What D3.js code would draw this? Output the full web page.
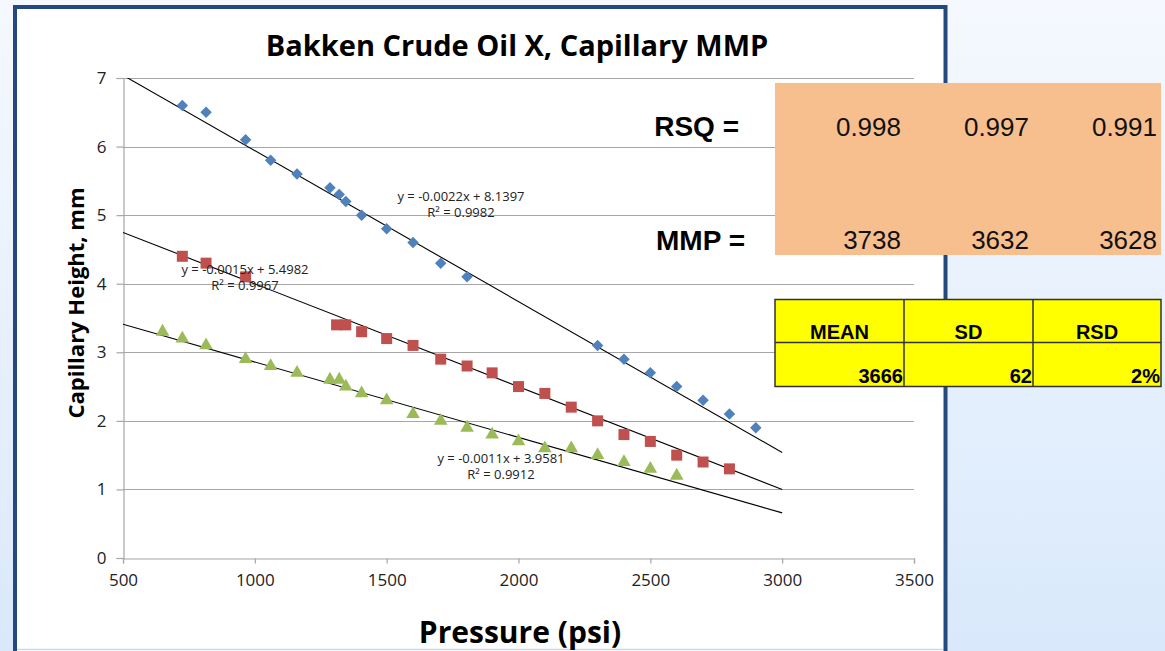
<!DOCTYPE html>
<html>
<head>
<meta charset="utf-8">
<script src="https://cdn.jsdelivr.net/npm/d3@7"></script>
<style>
  body { margin: 0; padding: 0; overflow: hidden; }
  svg { display: block; }
</style>
</head>
<body>
<svg id="chart" width="1165" height="651"></svg>
<script>
// chart data
var xTicks = [500, 1000, 1500, 2000, 2500, 3000, 3500];
var yTicks = [0, 1, 2, 3, 4, 5, 6, 7];

var blueX = [725, 815, 965, 1060, 1160, 1285, 1320, 1345, 1405, 1500, 1600, 1705, 1805, 2300, 2400, 2500, 2600, 2700, 2800, 2900];
var blueY = [6.6, 6.5, 6.1, 5.8, 5.6, 5.4, 5.3, 5.2, 5.0, 4.8, 4.6, 4.3, 4.1, 3.1, 2.9, 2.7, 2.5, 2.3, 2.1, 1.9];

var redX = [725, 815, 965, 1310, 1345, 1405, 1500, 1600, 1705, 1805, 1900, 2000, 2100, 2200, 2300, 2400, 2500, 2600, 2700, 2800];
var redY = [4.4, 4.3, 4.1, 3.4, 3.4, 3.3, 3.2, 3.1, 2.9, 2.8, 2.7, 2.5, 2.4, 2.2, 2.0, 1.8, 1.7, 1.5, 1.4, 1.3];

var greenX = [650, 725, 815, 965, 1060, 1160, 1285, 1320, 1345, 1405, 1500, 1600, 1705, 1805, 1900, 2000, 2100, 2200, 2300, 2400, 2500, 2600];
var greenY = [3.3, 3.2, 3.1, 2.9, 2.8, 2.7, 2.6, 2.6, 2.5, 2.4, 2.3, 2.1, 2.0, 1.9, 1.8, 1.7, 1.6, 1.6, 1.5, 1.4, 1.3, 1.2];

var trendSlope = [-0.0022, -0.0015, -0.0011];
var trendIntercept = [8.1397, 5.4982, 3.9581];
var trendR2 = ["0.9982", "0.9967", "0.9912"];

var rsqValues = ["0.998", "0.997", "0.991"];
var mmpValues = ["3738", "3632", "3628"];
var statHeaders = ["MEAN", "SD", "RSD"];
var statValues = ["3666", "62", "2%"];

var svg = d3.select("#chart");

// background
var defs = svg.append("defs");
var grad = defs.append("linearGradient").attr("id", "bg")
  .attr("x1", 0).attr("y1", 0).attr("x2", 0).attr("y2", 1);
grad.append("stop").attr("offset", "0%").attr("stop-color", "#f5f9fe");
grad.append("stop").attr("offset", "100%").attr("stop-color", "#d9e9fb");
svg.append("rect").attr("width", 1165).attr("height", 651).attr("fill", "url(#bg)");

// frame
svg.append("rect")
  .attr("x", 15).attr("y", 7).attr("width", 930.5).attr("height", 700)
  .attr("fill", "#fff").attr("stroke", "#24497f").attr("stroke-width", 4);
svg.append("line")
  .attr("x1", 17).attr("x2", 943).attr("y1", 649.5).attr("y2", 649.5)
  .attr("stroke", "#c5d9ef").attr("stroke-width", 1.5);

var plotLeft = 123, plotRight = 914, plotTop = 78, plotBottom = 558;

var x = d3.scaleLinear().domain([500, 3500]).range([plotLeft, plotRight]);
var y = d3.scaleLinear().domain([0, 7]).range([plotBottom, plotTop]);

defs.append("clipPath").attr("id", "plotclip")
  .append("rect").attr("x", plotLeft).attr("y", plotTop)
  .attr("width", plotRight - plotLeft).attr("height", plotBottom - plotTop);

// gridlines
svg.append("g")
  .selectAll("line")
  .data(yTicks.filter(function(d) { return d > 0; }))
  .join("line")
  .attr("x1", plotLeft).attr("x2", plotRight)
  .attr("y1", function(d) { return Math.round(y(d)) + 0.5; })
  .attr("y2", function(d) { return Math.round(y(d)) + 0.5; })
  .attr("stroke", "#a6a6a6").attr("stroke-width", 1.2);

// y axis
var yAxis = svg.append("g")
  .attr("transform", "translate(" + (plotLeft + 0.5) + ",0)")
  .call(d3.axisLeft(y).tickValues(yTicks).tickFormat(d3.format("d")).tickSize(7).tickPadding(10));
yAxis.select(".domain").attr("stroke", "#a6a6a6").attr("stroke-width", 1.2);
yAxis.selectAll(".tick line").attr("stroke", "#a6a6a6").attr("stroke-width", 1.2);
yAxis.selectAll(".tick text")
  .attr("font-family", "Open Sans").attr("font-size", 17).attr("fill", "#222");

// x axis
var xAxis = svg.append("g")
  .attr("transform", "translate(0," + (plotBottom + 0.5) + ")")
  .call(d3.axisBottom(x).tickValues(xTicks).tickFormat(d3.format("d")).tickSize(5).tickPadding(10));
xAxis.select(".domain").attr("stroke", "#a6a6a6").attr("stroke-width", 1.2);
xAxis.selectAll(".tick line").attr("stroke", "#a6a6a6").attr("stroke-width", 1.2);
xAxis.selectAll(".tick text")
  .attr("font-family", "Open Sans").attr("font-size", 17).attr("fill", "#222");

// trendlines
var trendG = svg.append("g").attr("clip-path", "url(#plotclip)");
trendSlope.forEach(function(m, i) {
  var b = trendIntercept[i];
  trendG.append("line")
    .attr("x1", x(500)).attr("y1", y(m * 500 + b))
    .attr("x2", x(3000)).attr("y2", y(m * 3000 + b))
    .attr("stroke", "#000").attr("stroke-width", 1.1);
});

// markers
function drawSeries(xs, ys, type, size, color, rotate) {
  var pts = xs.map(function(d, i) { return [d, ys[i]]; });
  svg.append("g").selectAll("path")
    .data(pts)
    .join("path")
    .attr("d", d3.symbol().type(type).size(size))
    .attr("transform", function(d) {
      return "translate(" + x(d[0]) + "," + y(d[1]) + ")" + (rotate ? " rotate(45)" : "");
    })
    .attr("fill", color);
}
drawSeries(greenX, greenY, d3.symbolTriangle, 80, "#9bbb59", false);
drawSeries(redX, redY, d3.symbolSquare, 121, "#c0504d", false);
drawSeries(blueX, blueY, d3.symbolSquare, 66, "#4f81bd", true);

// equation labels (two lines each)
var eqPos = [[461, 201], [245, 273.5], [501, 462.5]];
trendSlope.forEach(function(m, i) {
  svg.append("text")
    .attr("x", eqPos[i][0]).attr("y", eqPos[i][1])
    .attr("font-family", "Open Sans").attr("font-size", 13).attr("fill", "#222")
    .attr("text-anchor", "middle")
    .text("y = " + m.toFixed(4) + "x + " + trendIntercept[i].toFixed(4));
  svg.append("text")
    .attr("x", eqPos[i][0]).attr("y", eqPos[i][1] + 16)
    .attr("font-family", "Open Sans").attr("font-size", 13).attr("fill", "#222")
    .attr("text-anchor", "middle")
    .text("R\u00b2 = " + trendR2[i]);
});

// title and axis titles
svg.append("text")
  .attr("x", 517).attr("y", 56)
  .attr("text-anchor", "middle")
  .attr("font-family", "Open Sans").attr("font-weight", "bold").attr("font-size", 29)
  .attr("fill", "#000")
  .text("Bakken Crude Oil X, Capillary MMP");

svg.append("text")
  .attr("transform", "translate(84,303) rotate(-90)")
  .attr("text-anchor", "middle")
  .attr("font-family", "Open Sans").attr("font-weight", "bold").attr("font-size", 22)
  .attr("fill", "#000")
  .text("Capillary Height, mm");

svg.append("text")
  .attr("x", 520).attr("y", 643)
  .attr("text-anchor", "middle")
  .attr("font-family", "Open Sans").attr("font-weight", "bold").attr("font-size", 30)
  .attr("fill", "#000")
  .text("Pressure (psi)");

// RSQ / MMP box
var colRight = [901, 1029, 1157];
svg.append("rect").attr("x", 775).attr("y", 83).attr("width", 386).attr("height", 172)
  .attr("fill", "#f8bf8e");
svg.append("text").attr("x", 739).attr("y", 136).attr("text-anchor", "end")
  .attr("font-family", "Liberation Sans").attr("font-weight", "bold").attr("font-size", 28)
  .text("RSQ =");
svg.append("text").attr("x", 745).attr("y", 250).attr("text-anchor", "end")
  .attr("font-family", "Liberation Sans").attr("font-weight", "bold").attr("font-size", 28)
  .text("MMP =");
svg.append("g").selectAll("text").data(rsqValues).join("text")
  .attr("x", function(d, i) { return colRight[i]; }).attr("y", 136)
  .attr("text-anchor", "end")
  .attr("font-family", "Liberation Sans").attr("font-size", 26).attr("fill", "#111")
  .text(function(d) { return d; });
svg.append("g").selectAll("text").data(mmpValues).join("text")
  .attr("x", function(d, i) { return colRight[i]; }).attr("y", 249)
  .attr("text-anchor", "end")
  .attr("font-family", "Liberation Sans").attr("font-size", 26).attr("fill", "#111")
  .text(function(d) { return d; });

// stats table
var tEdges = [775, 904, 1033, 1161];
var tTop = 299.5, tMid = 342.5, tBot = 386.5;
svg.append("rect").attr("x", tEdges[0]).attr("y", tTop)
  .attr("width", tEdges[3] - tEdges[0]).attr("height", tBot - tTop)
  .attr("fill", "#ffff00").attr("stroke", "#333").attr("stroke-width", 1.5);
svg.append("line").attr("x1", tEdges[0]).attr("x2", tEdges[3]).attr("y1", tMid).attr("y2", tMid)
  .attr("stroke", "#333").attr("stroke-width", 1.5);
[tEdges[1], tEdges[2]].forEach(function(ex) {
  svg.append("line").attr("x1", ex).attr("x2", ex).attr("y1", tTop).attr("y2", tBot)
    .attr("stroke", "#333").attr("stroke-width", 1.5);
});
svg.append("g").selectAll("text").data(statHeaders).join("text")
  .attr("x", function(d, i) { return (tEdges[i] + tEdges[i + 1]) / 2; }).attr("y", 339)
  .attr("text-anchor", "middle")
  .attr("font-family", "Liberation Sans").attr("font-weight", "bold").attr("font-size", 20)
  .text(function(d) { return d; });
svg.append("g").selectAll("text").data(statValues).join("text")
  .attr("x", function(d, i) { return tEdges[i + 1] - 1; }).attr("y", 383)
  .attr("text-anchor", "end")
  .attr("font-family", "Liberation Sans").attr("font-weight", "bold").attr("font-size", 20)
  .text(function(d) { return d; });
</script>
</body>
</html>
